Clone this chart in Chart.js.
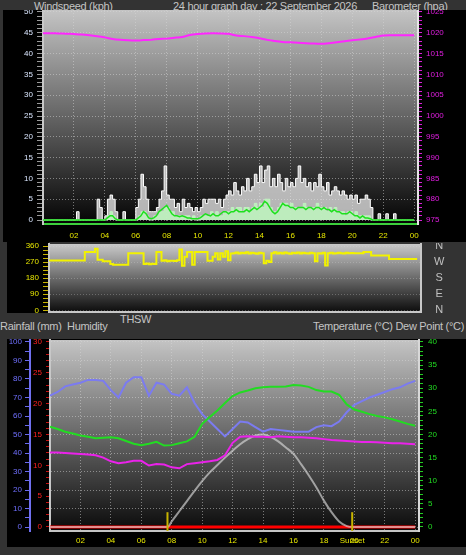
<!DOCTYPE html>
<html><head><meta charset="utf-8">
<script src="https://cdn.jsdelivr.net/npm/chart.js@4.4.1/dist/chart.umd.min.js"></script>
<style>
html,body{margin:0;padding:0;background:#333;width:466px;height:555px;overflow:hidden;position:relative;font-family:"Liberation Sans",Arial,sans-serif;}
.t{position:absolute;color:#c4c4c4;font-size:11px;line-height:13px;white-space:nowrap;letter-spacing:-0.3px;}
.blk{position:absolute;background:#000;}
canvas{position:absolute;}
</style></head><body>
<div class="t" style="left:34px;top:0">Windspeed (kph)</div>
<div class="t" style="left:173px;top:0">24 hour graph day : 22 September 2026</div>
<div class="t" style="left:372px;top:0">Barometer (hpa)</div>
<div class="blk" style="left:3px;top:10px;width:463px;height:232px"></div>
<div class="blk" style="left:7px;top:242px;width:42px;height:71px"></div>
<div class="t" style="left:120px;top:313px">THSW</div>
<div class="t" style="left:0;top:320px">Rainfall (mm)&nbsp; Humidity</div>
<div class="t" style="left:313px;top:320px">Temperature (°C) Dew Point (°C)</div>
<div class="blk" style="left:7px;top:339px;width:459px;height:208px"></div>
<canvas id="c1" width="466" height="233" style="left:0;top:10px;width:466px;height:233px"></canvas>
<canvas id="c2" width="459" height="70" style="left:7px;top:243px;width:459px;height:70px"></canvas>
<canvas id="c3" width="459" height="208" style="left:7px;top:339px;width:459px;height:208px"></canvas>
<script>
// ---------- DATA ----------
const hourTicks = [2,4,6,8,10,12,14,16,18,20,22,24];
const sunEvents = [7.72, 19.86];           // sunrise, sunset (hours)
const windTicks = [0,5,10,15,20,25,30,35,40,45,50];
const baroTicks = [975,980,985,990,995,1000,1005,1010,1015,1020,1025];
const dirTicks = [0,90,180,270,360];
const dirNames = ['N','E','S','W','N'];
const humTicks = [0,10,20,30,40,50,60,70,80,90,100];
const rainTicks = [0,5,10,15,20,25,30];
const tempTicks = [0,5,10,15,20,25,30,35,40];

// 10-minute samples, 00:00 .. 24:00
const windGust = [
 0,0,0,0,0,0, 0,0,0,0,0,0, 0,2,0,0,0,0, 0,0,0,5,3,0,
 1,5,6,5,2,0, 0,2,0,0,0,0, 3,5,11,8,5,2, 2,2,3,5,7,13,
 6,5,5,3,4,2, 5,3,4,3,2,3, 2,3,5,4,5,5, 5,4,5,3,5,6,
 7,6,9,7,6,8, 7,10,7,8,11,9, 13,9,12,13,8,10, 8,11,9,7,10,8,
 9,8,10,13,9,10, 8,9,7,9,8,11, 8,7,9,6,7,8, 7,6,7,6,5,6,
 5,6,4,5,5,6, 5,3,0,0,1.5,0, 0,1.5,0,0,1.5,0, 0,0,0,0,0,0, 0];
const windSpeed = [
 0,0,0,0,0,0, 0,0,0,0,0,0, 0,0,0,0,0,0, 0,0,0,0,0,0,
 0,1,2,1,0,0, 0,0,0,0,0,0, 0,1,2,2,1,0, 0,1,1,2,2,3,
 3,2,2,1,1,1, 1,1,1,0,1,0, 0,1,1,1,1,2, 1,2,1,1,2,2,
 2,3,2,3,3,2, 3,3,2,3,4,3, 4,3,5,5,3,2, 2,3,4,4,4,3,
 4,3,3,3,3,4, 3,3,3,3,4,3, 3,3,2,3,2,3, 2,2,2,1,2,2,
 1,2,1,1,1,1, 1,0,0,0,0,0, 0,0,0,0,0,0, 0,0,0,0,0,0, 0];
const windAvg = [
 0,0,0,0,0,0, 0,0,0,0,0,0, 0,0,0,0,0,0, 0,0,0,0,0,0,
 0,0.5,1,1,0.3,0, 0,0,0,0,0,0, 0,0.5,1,2,1.5,0.5, 0.3,0.5,1,2,2.5,3,
 3.5,2.5,1.5,1,1,0.8, 1,0.8,0.5,0.5,0.3,0.3, 0.3,0.5,1,1.5,1.2,1, 1.5,1,1,1.5,2,2,
 1.5,2,2,2.5,2,2, 2,2.5,2,2.5,3,2.5, 3,3.5,4.5,4,3,2, 1.5,2,3,4,3.5,3.5,
 3,3,2.5,3,3,3, 2.5,3,3,2.5,3,3, 2.5,3,2.5,2.5,2,2.5, 2,2,1.5,1.5,1.5,2,
 1.5,1,1,0.5,1,0.5, 0.5,0.3,0,0,0,0, 0,0,0,0,0,0, 0,0,0,0,0,0, 0];
const windDir = [
 279,279,279,279,279,279, 279,279,279,279,279,279, 279,279,326,326,326,326, 345,283,283,274,274,274,
 259,255,255,255,255,255, 255,320,320,320,320,320, 320,259,262,258,261,259, 326,326,277,280,275,278,
 277,276,280,340,250,300, 326,326,255,326,326,326, 326,326,277,277,300,320, 285,320,300,330,280,318,
 320,323,318,322,320,325, 318,322,320,316,322,320, 264,277,270,320,325,318, 322,318,324,320,316,322,
 320,324,318,322,320,318, 322,320,274,320,318,322, 251,320,322,318,320,322, 320,318,322,320,321,319,
 320,320,320,326,326,326, 307,307,307,307,307,307, 307,287,287,287,287,287, 287,287,287,287,287,287, 287];

// 30-minute samples, 00:00 .. 24:00
const barometer = [1019.9,1019.9,1019.85,1019.8,1019.7,1019.6,1019.4,1019.15,1018.9,1018.5,
 1018.3,1018.2,1018.15,1018.25,1018.35,1018.5,1018.6,1018.8,1019.0,1019.45,
 1019.7,1019.85,1019.9,1019.85,1019.75,1019.35,1019.2,1019.0,1018.7,1018.3,
 1018.05,1017.8,1017.7,1017.6,1017.5,1017.4,1017.35,1017.5,1017.7,1017.95,
 1018.2,1018.4,1018.65,1019.0,1019.35,1019.4,1019.4,1019.4,1019.4];
const humidity = [71,73,76,77,78,79.5,79.5,79,74,70,78,81,81,71,78,77,72,71,75.5,67,
 61,57,53,49,53,57,56.5,54,51.5,53,52.5,52,51.5,51.5,51.5,54,55,54.5,57,62,
 66,68,70,71.5,73,74.5,75.5,77.5,79];
const temperature = [21.7,21.2,20.6,20.2,19.8,19.5,19.2,19.3,19.4,19.2,18.6,18.0,17.7,18.0,18.4,17.6,17.7,18.1,18.5,19.5,
 22.3,23.8,25.2,26.8,28.3,29.1,29.5,30.0,30.2,30.3,30.3,30.4,30.7,30.6,30.3,29.6,29.3,29.3,28.6,26.5,
 25.4,24.9,24.4,24.0,23.7,23.3,22.8,22.3,21.9];
const dewPoint = [16.1,16.1,16.0,15.9,15.8,15.7,15.5,15.0,14.2,13.8,14.0,14.3,14.3,13.3,13.6,13.5,12.9,12.7,13.6,13.8,
 14.0,14.2,14.5,15.5,18.2,19.5,19.6,19.5,19.5,19.4,19.6,19.5,19.4,19.4,19.3,19.2,19.0,18.8,18.7,18.6,
 18.5,18.4,18.4,18.3,18.2,18.1,18.1,18.0,17.9];
const sunHours = [0,7.72,8,8.5,9,9.5,10,10.5,11,11.5,12,12.5,13,13.5,14,14.5,15,15.5,16,16.5,17,17.5,18,18.5,19,19.5,19.86,24];
const sunCurve = [0,0,1.2,3.4,5.6,7.8,9.9,11.8,13.4,15.0,16.5,17.9,19.0,19.8,20.0,19.5,18.5,17.2,15.8,13.6,11.2,8.6,5.7,3.2,1.2,0.2,0,0];
const rainHours = [0,24];
const rainfall = [0,0];

// ---------- helpers ----------
Chart.defaults.font.family = "'Liberation Sans', Arial, sans-serif";
Chart.defaults.font.size = 8;
Chart.defaults.animation = false;
Chart.defaults.elements.point.radius = 0;
Chart.defaults.plugins.legend.display = false;
Chart.defaults.plugins.tooltip.enabled = false;

const at = (arr, step) => arr.map((v,i)=>({x:i*step, y:v}));
const pairs = (xs, ys) => xs.map((x,i)=>({x:x, y:ys[i]}));
function makeTicks(min,max,majors,step){
  const s = new Set(majors);
  if (step) for (let v=min; v<=max+1e-9; v+=step) s.add(Math.round(v*1000)/1000);
  return [...s].sort((a,b)=>a-b).map(v=>({value:v}));
}
const hourLabel = v => v===sunEvents[1] ? 'Sunset' : String(v%24).padStart(2,'0');
const GRID = 'rgba(215,215,215,0.5)';
const bgPlugin = {
  id:'bg',
  beforeDraw(chart, args, o){
    const {ctx, chartArea:a} = chart;
    const g = ctx.createLinearGradient(0,a.top,0,a.bottom);
    g.addColorStop(0,o.top); g.addColorStop(1,o.bottom);
    ctx.save(); ctx.fillStyle=g; ctx.fillRect(a.left,a.top,a.right-a.left,a.bottom-a.top); ctx.restore();
  }
};
function yFit(w){ return s => { s.width=w; s.paddingTop=0; s.paddingBottom=0; }; }
function xFit(h){ return s => { s.height=h; s.paddingLeft=0; s.paddingRight=0; }; }

// ---------- chart 1 : wind + barometer ----------
new Chart(document.getElementById('c1'), {
  type:'line',
  data:{ datasets:[
    {data:at(barometer,0.5), yAxisID:'yB', borderColor:'#ff26ff', borderWidth:2, tension:0.2},
    {data:at(windAvg,1/6), yAxisID:'yW', borderColor:'#1ee01e', borderWidth:1.5},
    {data:at(windSpeed,1/6), yAxisID:'yW', borderColor:'#c0f2c0', borderWidth:1, backgroundColor:'rgba(190,242,190,0.9)', fill:'origin', stepped:true},
    {data:at(windGust,1/6), yAxisID:'yW', borderColor:'#ffffff', borderWidth:1, backgroundColor:'rgba(228,228,228,0.78)', fill:'origin', stepped:true}
  ]},
  options:{ responsive:false, layout:{padding:0},
    plugins:{ bg:{top:'#c4c4c4', bottom:'#040404'} },
    scales:{
      x:{ type:'linear', min:0, max:24.25,
        afterBuildTicks: s => { s.ticks = hourTicks.map(v=>({value:v})); }, afterFit:xFit(19),
        ticks:{ autoSkip:false, maxRotation:0, color:'#e6e600', padding:7, callback:hourLabel },
        grid:{ color:GRID, drawTicks:false }, border:{ color:'#3ccf3c', width:2, dash:[1,2] } },
      yW:{ position:'left', min:-0.96, max:50.48,
        afterBuildTicks: s => { s.ticks = makeTicks(0,50,windTicks,1); }, afterFit:yFit(43),
        ticks:{ autoSkip:false, color:'#dae6ff', padding:4, callback: v => windTicks.includes(v)?String(v):'' },
        grid:{ color: c => windTicks.includes(c.tick && c.tick.value)?GRID:'transparent', tickColor:'#9a9a9a', tickLength:6 },
        border:{ color:'#c8c8c8', width:2, dash:[1,2] } },
      yB:{ position:'right', min:974.04, max:1025.48,
        afterBuildTicks: s => { s.ticks = makeTicks(975,1025,baroTicks,1); }, afterFit:yFit(48),
        ticks:{ autoSkip:false, color:'#e21ee2', padding:4, callback: v => baroTicks.includes(v)?String(v):'' },
        grid:{ drawOnChartArea:false, tickColor:'#d81ed8', tickLength:4 },
        border:{ color:'#e6e6e6', width:2 } }
    }
  },
  plugins:[bgPlugin]
});

// ---------- chart 2 : wind direction ----------
new Chart(document.getElementById('c2'), {
  type:'line',
  data:{ datasets:[
    {data:at(windDir,1/6), yAxisID:'yD', borderColor:'#f2f200', borderWidth:2, stepped:true}
  ]},
  options:{ responsive:false, layout:{padding:{top:1,bottom:1,left:0,right:0}},
    plugins:{ bg:{top:'#cacaca', bottom:'#0c0c0c'} },
    scales:{
      x:{ type:'linear', min:0, max:24.25, afterFit:xFit(0),
        ticks:{display:false}, grid:{display:false}, border:{ display:true, color:'#c8c8c8', width:2 } },
      yD:{ position:'left', min:-9.5, max:371.2,
        afterBuildTicks: s => { s.ticks = makeTicks(0,360,dirTicks,22.5); }, afterFit:yFit(42),
        ticks:{ autoSkip:false, color:'#e6e600', padding:4, callback: v => dirTicks.includes(v)?String(v):'' },
        grid:{ color: c => dirTicks.includes(c.tick && c.tick.value)?'rgba(215,215,215,0.3)':'transparent', tickColor:'#c8b400', tickLength:6 },
        border:{ color:'#c8c8c8', width:2, dash:[1,2] } },
      yN:{ position:'right', min:-9.5, max:371.2,
        afterBuildTicks: s => { s.ticks = dirTicks.map(v=>({value:v})); }, afterFit:yFit(45),
        ticks:{ autoSkip:false, color:'#c0c0c0', font:{size:11}, padding:13, crossAlign:'center',
          callback: v => dirNames[dirTicks.indexOf(v)] },
        grid:{ drawOnChartArea:false, drawTicks:false },
        border:{ color:'#c8c8c8', width:2 } }
    }
  },
  plugins:[bgPlugin]
});

// ---------- chart 3 : humidity / rain / temperature ----------
const markerSets = sunEvents.map(h => ({data:[{x:h,y:-1},{x:h,y:3.2}], yAxisID:'yT', borderColor:'#c8b400', borderWidth:2}));
new Chart(document.getElementById('c3'), {
  type:'line',
  data:{ datasets:[
    {data:at(dewPoint,0.5), yAxisID:'yT', borderColor:'#ea22ea', borderWidth:2},
    {data:at(temperature,0.5), yAxisID:'yT', borderColor:'#22dc22', borderWidth:2},
    {data:at(humidity,0.5), yAxisID:'yH', borderColor:'#7b7bf0', borderWidth:2},
    ...markerSets,
    {data:pairs(sunHours,sunCurve), yAxisID:'yT', borderColor:'rgba(215,215,215,0.66)', borderWidth:2, cubicInterpolationMode:'monotone'},
    {data:pairs(rainHours,rainfall), yAxisID:'yR', borderColor:'#ff0000', borderWidth:3}
  ]},
  options:{ responsive:false, layout:{padding:{top:1,bottom:0,left:0,right:0}},
    plugins:{ bg:{top:'#c4c4c4', bottom:'#0a0a0a'} },
    scales:{
      x:{ type:'linear', min:0, max:24.25,
        afterBuildTicks: s => { s.ticks = hourTicks.concat([sunEvents[1]]).map(v=>({value:v})); }, afterFit:xFit(16),
        ticks:{ autoSkip:false, maxRotation:0, color:'#e6e600', padding:5, callback:hourLabel },
        grid:{ color: c => (c.tick && c.tick.value===sunEvents[1])?'transparent':GRID, drawTicks:false },
        border:{ color:'#c4c4c4', width:2, dash:[1,2] } },
      yH:{ position:'left', weight:1, min:-2.16, max:101.08,
        afterBuildTicks: s => { s.ticks = makeTicks(0,100,humTicks,5); }, afterFit:yFit(23),
        ticks:{ autoSkip:false, color:'#7070ff', padding:3, callback: v => humTicks.includes(v)?String(v):'' },
        grid:{ color: c => humTicks.includes(c.tick && c.tick.value)?GRID:'transparent', tickColor:'#6a6af0', tickLength:5 },
        border:{ color:'#7070f0', width:2, dash:[1,2] } },
      yR:{ position:'left', weight:0, min:-0.65, max:30.32,
        afterBuildTicks: s => { s.ticks = makeTicks(0,30,rainTicks,1); }, afterFit:yFit(20),
        ticks:{ autoSkip:false, color:'#ff2020', padding:4, callback: v => rainTicks.includes(v)?String(v):'' },
        grid:{ drawOnChartArea:false, tickColor:'#c81010', tickLength:4 },
        border:{ color:'#c8c8c8', width:2 } },
      yT:{ position:'right', min:-0.865, max:40.43,
        afterBuildTicks: s => { s.ticks = makeTicks(0,40,tempTicks,1); }, afterFit:yFit(47),
        ticks:{ autoSkip:false, color:'#22dd22', padding:5, callback: v => tempTicks.includes(v)?String(v):'' },
        grid:{ drawOnChartArea:false, tickColor:'#22cc22', tickLength:4 },
        border:{ color:'#d8d8d8', width:2 } }
    }
  },
  plugins:[bgPlugin]
});
</script>
</body></html>
